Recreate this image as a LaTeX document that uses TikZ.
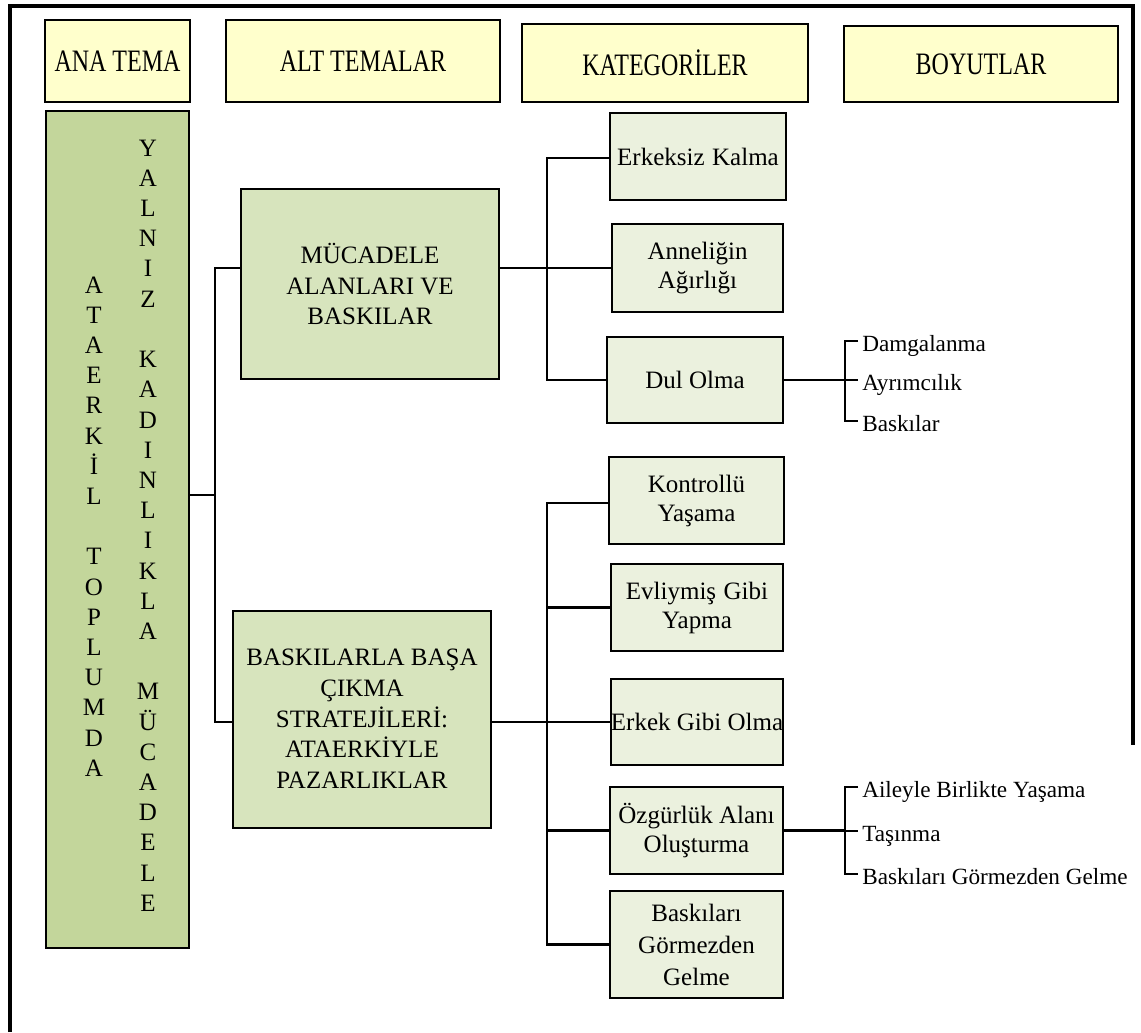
\documentclass[tikz,border=0pt]{standalone}
\usepackage{fontspec}
\setmainfont{Liberation Serif}
\definecolor{headfill}{HTML}{FFFFCC}
\definecolor{mainfill}{HTML}{C3D69B}
\definecolor{subfill}{HTML}{D7E4BD}
\definecolor{catfill}{HTML}{EBF1DE}
\newcommand{\tallhead}[1]{\scalebox{1}[1.3]{#1}}
\newcommand{\wsp}{\hspace{0.3em}}
\begin{document}
\begin{tikzpicture}[x=0.75pt,y=-0.75pt,
  box/.style={draw=black, line width=1.5pt, rectangle, inner sep=0pt, align=center},
  size/.style 2 args={minimum width=#1*0.75pt, minimum height=#2*0.75pt},
  head/.style={box, fill=headfill, font=\fontsize{18}{21}\selectfont},
  mainbox/.style={box, fill=mainfill},
  subbox/.style={box, fill=subfill, font=\fontsize{18.75}{23}\selectfont},
  catbox/.style={box, fill=catfill, font=\fontsize{18.75}{21.75}\selectfont},
  vtext/.style={inner sep=0pt, align=center, font=\fontsize{18.75}{22.65}\selectfont},
  dim/.style={inner sep=0pt, inner xsep=3pt, anchor=west, text height=15pt, text depth=0pt,
    font=\fontsize{17.4}{20}\selectfont},
  conn/.style={line width=2.2pt, line join=miter},
  frame/.style={line width=3pt}]
\useasboundingbox (0,0) rectangle (1141,1032);

% outer frame
\draw[frame] (10,1032) -- (10,6) -- (1133,6) -- (1133,745);

% column headers
\node[head, size={145}{82}] (hAna) at (117.5,61) {\tallhead{ANA TEMA}};
\node[head, size={274}{82}] (hAlt) at (363,61) {\tallhead{ALT TEMALAR}};
\node[head, size={286}{78}] (hKat) at (665,63) {\tallhead{KATEGORİLER}};
\node[head, size={274}{76}] (hBoy) at (981,64) {\tallhead{BOYUTLAR}};

% main theme
\node[mainbox, size={143}{837}] (main) at (117.5,529.5) {};
\node[vtext] (colA) at (94,526.5) {A\\T\\A\\E\\R\\K\\İ\\L\\\mbox{}\\T\\O\\P\\L\\U\\M\\D\\A};
\node[vtext] (colB) at (148,525.5) {Y\\A\\L\\N\\I\\Z\\\mbox{}\\K\\A\\D\\I\\N\\L\\I\\K\\L\\A\\\mbox{}\\M\\Ü\\C\\A\\D\\E\\L\\E};

% sub-themes
\node[subbox, size={258}{190}] (sub1) at (370,284) {MÜCADELE\\ALANLARI VE\\BASKILAR};
\node[subbox, size={258}{217}] (sub2) at (362,719) {BASKILARLA BAŞA\\ÇIKMA\\STRATEJİLERİ:\\ATAERKİYLE\\PAZARLIKLAR};

% categories
\node[catbox, size={176}{87}] (erk) at (698,156.5) {Erkeksiz\wsp Kalma};
\node[catbox, size={171}{88}] (ann) at (697.5,268) {Anneliğin\\Ağırlığı};
\node[catbox, size={176}{86}] (dul) at (695,380) {Dul Olma};
\node[catbox, size={175}{87}] (kon) at (696.5,500.5) {Kontrollü\\Yaşama};
\node[catbox, size={172}{87}] (evl) at (697,607.5) {Evliymiş\wsp Gibi\\Yapma};
\node[catbox, size={172}{86}] (erg) at (697,722) {Erkek Gibi Olma};
\node[catbox, size={173}{87}] (ozg) at (696.5,830.5) {Özgürlük Alanı\\Oluşturma};
\node[catbox, size={173}{107}, font=\fontsize{18.75}{24}\selectfont] (bgg) at (696.5,944.5) {Baskıları\\Görmezden\\Gelme};

% dimensions
\node[dim] (d1) at (858,341) {Damgalanma};
\node[dim] (d2) at (858,380) {Ayrımcılık};
\node[dim] (d3) at (858,421) {Baskılar};
\node[dim] (e1) at (858,787) {Aileyle Birlikte Yaşama};
\node[dim] (e2) at (858,831) {Taşınma};
\node[dim] (e3) at (858,874) {Baskıları Görmezden Gelme};

% bus positions
\coordinate (jL) at (215,495);
\coordinate (busL) at (215,268);
\coordinate (busK) at (547,0);
\coordinate (brk) at (845,0);

% main theme to sub-themes
\draw[conn] (main.east |- jL) -- (jL);
\draw[conn] (sub1.west |- busL) -- (busL) |- (sub2.west |- erg.west);

% sub-theme 1 to its categories
\draw[conn] (sub1.east |- ann.west) -- (ann.west);
\draw[conn] (erk.west |- 0,158) -- (busK |- 0,158) -- (busK |- dul.west) -- (dul.west);

% sub-theme 2 to its categories
\draw[conn] (sub2.east |- erg.west) -- (erg.west);
\draw[conn] (kon.west |- 0,503) -- (busK |- 0,503) -- (busK |- bgg.west) -- (bgg.west);
\draw[conn] (busK |- evl.west) -- (evl.west);
\draw[conn] (busK |- ozg.west) -- (ozg.west);

% categories to dimensions
\draw[conn] (dul.east) -- (brk |- dul.east);
\draw[conn] (d1.west) -- (brk |- d1.west) -- (brk |- d3.west) -- (d3.west);
\draw[conn] (brk |- d2.west) -- (d2.west);
\draw[conn] (ozg.east) -- (brk |- ozg.east);
\draw[conn] (e1.west) -- (brk |- e1.west) -- (brk |- e3.west) -- (e3.west);
\draw[conn] (brk |- e2.west) -- (e2.west);
\end{tikzpicture}
\end{document}
